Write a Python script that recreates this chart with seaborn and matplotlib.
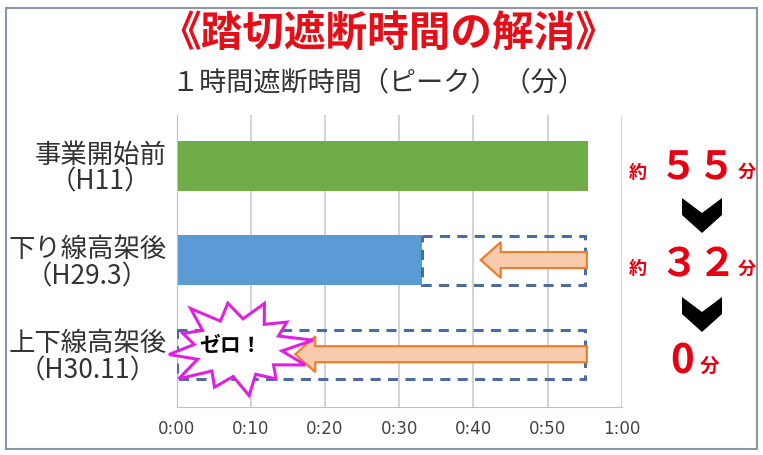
import numpy as np
import pandas as pd
import matplotlib
matplotlib.use("Agg")
import matplotlib.pyplot as plt
from matplotlib.patches import FancyArrow, Polygon, Rectangle
import seaborn as sns

# data
categories = ["事業開始前\n（H11）", "下り線高架後\n（H29.3）", "上下線高架後\n（H30.11）"]
minutes = [55.4, 33.1, 0.0]
bar_colors = ["#70ad47", "#5b9bd5", "#5b9bd5"]
box_end = 55.0
tick_minutes = [0, 10, 20, 30, 40, 50, 60]
tick_labels = ["0:00", "0:10", "0:20", "0:30", "0:40", "0:50", "1:00"]
side_values = ["５５", "３２", "0"]

sns.set_style("white")
plt.rcParams["font.family"] = ["Noto Sans CJK JP", "DejaVu Sans"]

W, H = 763, 455
fig = plt.figure(figsize=(W / 100, H / 100), dpi=100)
ax = fig.add_axes([176.5 / W, 1 - 407 / H, (621.7 - 176.5) / W, (407 - 115) / H])


def fx(px):
    return px / W


def fy(py):
    return 1 - py / H


df = pd.DataFrame({"cat": categories, "min": minutes})
sns.barplot(data=df, x="min", y="cat", hue="cat", palette=bar_colors,
            legend=False, width=0.53, saturation=1, linewidth=0, ax=ax, zorder=2)

# dashed outline showing the removed closure time
rows = [1, 2]
ax.barh(rows, [box_end - minutes[i] for i in rows], left=[minutes[i] for i in rows],
        height=0.52, fill=False, edgecolor="#4d6c9e", linewidth=2.2,
        linestyle=(0, (3.3, 2.4)), zorder=3)

ax.set_xlim(0, 60)
ax.set_ylim(2.56, -0.54)
ax.set_xticks(tick_minutes)
ax.set_xticklabels(tick_labels, fontsize=12, color="#444444", family="DejaVu Sans")
ax.grid(axis="x", color="#c8c8c8", linewidth=1.1, zorder=0)
ax.set_axisbelow(True)
ax.set_xlabel("")
ax.set_ylabel("")
for s in ["top", "right"]:
    ax.spines[s].set_visible(False)
ax.spines["left"].set_color("#bfbfbf")
ax.spines["bottom"].set_color("#bfbfbf")
ax.tick_params(axis="x", length=0, pad=9)
ax.tick_params(axis="y", length=0, pad=7, labelsize=19, labelcolor="#333333")
for t in ax.get_yticklabels():
    t.set_multialignment("center")
    t.set_linespacing(1.0)

# orange arrows
for y, tip in [(1.0, 41.0), (2.0, 16.0)]:
    ax.add_patch(FancyArrow(box_end + 0.3, y, tip - box_end - 0.3, 0, width=0.17,
                            head_width=0.38, head_length=2.7, length_includes_head=True,
                            facecolor="#f8cbad", edgecolor="#ed7d31", linewidth=1.6,
                            zorder=4))

# starburst "ゼロ！"
cx, cy = 8.3, 1.93
n = 24
outer = [1.0, 0.82, 0.95, 0.9, 1.0, 0.78, 0.92, 1.0, 0.85, 0.97, 0.8, 0.95]
ang = np.linspace(0, 2 * np.pi, n, endpoint=False) + 0.15
pts = []
for i, a in enumerate(ang):
    r = outer[i // 2] if i % 2 == 0 else 0.58
    pts.append((cx + r * 76 * np.cos(a) / 7.42, cy - r * 50 * np.sin(a) / 94.25))
ax.add_patch(Polygon(pts, closed=True, facecolor="white", edgecolor="#e020e0",
                     linewidth=2.2, zorder=5, clip_on=False))
ax.text(cx - 1.0, cy - 0.02, "ゼロ！", fontsize=15, fontweight="bold", color="black",
        ha="center", va="center", zorder=6)

# titles
fig.text(fx(388), fy(34), "《踏切遮断時間の解消》", fontsize=30, fontweight="bold",
         color="#e3101a", ha="center", va="center")
fig.text(fx(172), fy(83), "１時間遮断時間（ピーク） （分）", fontsize=19.5,
         color="#333333", ha="left", va="center")

# right side annotations
red = "#e60012"
for py, val in [(168, side_values[0]), (265, side_values[1])]:
    fig.text(fx(647), fy(py + 4), "約", fontsize=13, fontweight="bold", color=red,
             ha="right", va="center")
    fig.text(fx(698), fy(py), val, fontsize=28, fontweight="bold", color=red,
             ha="center", va="center")
    fig.text(fx(738), fy(py + 4), "分", fontsize=13, fontweight="bold", color=red,
             ha="left", va="center")
fig.text(fx(682), fy(362), side_values[2], fontsize=29, fontweight="bold", color=red,
         ha="center", va="center")
fig.text(fx(700), fy(366), "分", fontsize=14, fontweight="bold", color=red,
         ha="left", va="center")

# chevrons
for top in [198, 297]:
    shape = [(682, top), (702, top + 15), (722, top), (722, top + 17),
             (702, top + 35), (682, top + 17)]
    fig.patches.append(Polygon([(fx(a), fy(b)) for a, b in shape], closed=True,
                               facecolor="black", edgecolor="none",
                               transform=fig.transFigure, figure=fig))

# outer frame
fig.patches.append(Rectangle((fx(6), fy(449)), fx(751), 441 / H, fill=False,
                             edgecolor="#8a97a6", linewidth=1.5,
                             transform=fig.transFigure, figure=fig))

fig.savefig("out.png", dpi=100)
